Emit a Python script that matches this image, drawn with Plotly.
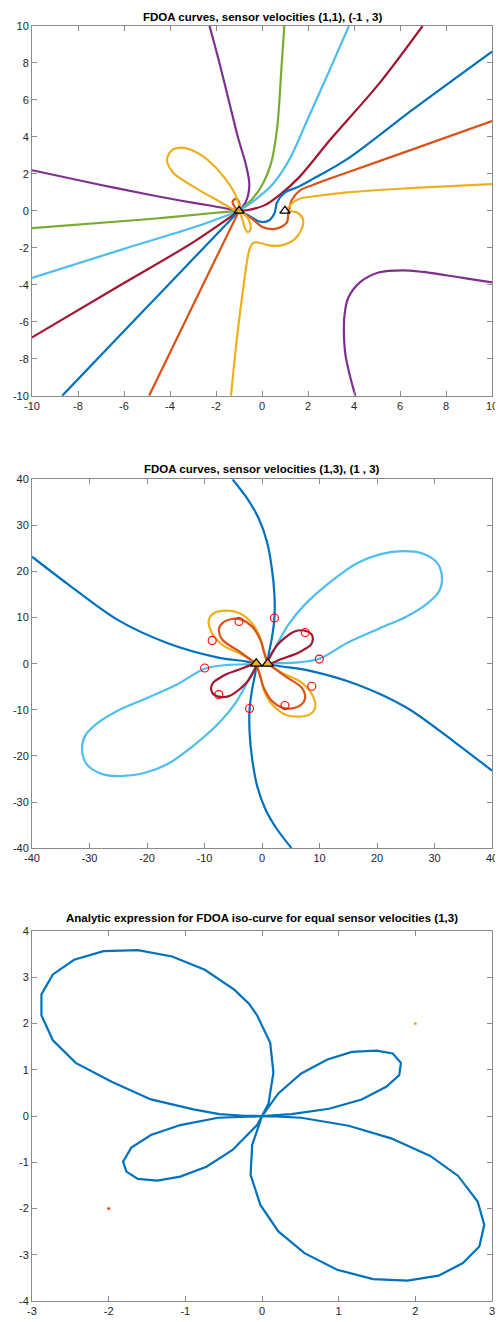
import plotly.graph_objects as go

# ---------------- colours (MATLAB default order) ----------------
BLUE = "#0072BD"; ORANGE = "#D95319"; YELLOW = "#EDB120"; PURPLE = "#7E2F8E"
GREEN = "#77AC30"; LBLUE = "#4DBEEE"; DRED = "#A2142F"

# ---------------- chart 1 data: FDOA curves, velocities (1,1), (-1,3) ----------------
sensors_x = [-1, 1]
sensors_y = [0, 0]

purple_top_x = [-2.28, -1.85, -1.45, -1.05, -0.7, -0.55, -0.7, -1.0]
purple_top_y = [10, 8, 6, 4, 2.5, 1.4, 0.5, 0.0]
purple_left_x = [-10, -7, -5, -3.5, -2.2, -1.0]
purple_left_y = [2.2, 1.4, 0.9, 0.55, 0.28, 0.0]
purple_br_x = [4.06, 3.8, 3.63, 3.56, 3.59, 3.75, 4.27, 5.1, 6.1, 7.0, 8.0, 9.0, 10.0]
purple_br_y = [-10, -8.8, -7.8, -6.5, -5.6, -4.7, -3.85, -3.32, -3.21, -3.3, -3.48, -3.67, -3.87]

green_left_x = [-10, -5, -2, -1]
green_left_y = [-0.93, -0.45, -0.1, 0.0]
green_up_x = [0.97, 0.85, 0.66, 0.4, 0.05, -0.45, -1.0]
green_up_y = [10, 7.8, 4.5, 2.6, 1.5, 0.6, 0.0]

lblue_left_x = [-10, -6, -3, -1]
lblue_left_y = [-3.62, -2.05, -0.9, 0.0]
lblue_up_x = [3.78, 2.9, 2.0, 1.2, 0.5, -0.3, -1.0]
lblue_up_y = [10, 7.5, 5.0, 2.8, 1.5, 0.6, 0.0]

dred_left_x = [-10, -6, -3, -1]
dred_left_y = [-6.84, -3.9, -1.7, 0.0]
dred_up_x = [6.98, 5.1, 3.0, 1.6, 0.8, 0.1, -0.6, -1.0]
dred_up_y = [10, 6.9, 3.9, 1.8, 0.9, 0.3, 0.05, 0.0]

blue_left_x = [-8.69, -5, -3, -1]
blue_left_y = [-10, -5.2, -2.6, 0.0]
blue_right_x = [-1.0, -0.55, -0.1, 0.3, 0.55, 0.65, 1.0, 1.57, 2.2, 3.7, 6.55, 10.0]
blue_right_y = [0.0, -0.27, -0.58, -0.52, -0.1, 0.45, 1.0, 1.3, 1.72, 2.8, 5.48, 8.62]

orange_left_x = [-4.91, -3, -2, -1]
orange_left_y = [-10, -5.1, -2.55, 0.0]
orange_right_x = [-1.0, -0.43, 0.0, 0.57, 1.07, 1.15, 1.3, 1.64, 2.2, 3.7, 6.55, 10.0]
orange_right_y = [0.0, -0.43, -0.85, -0.97, -0.65, -0.1, 0.6, 1.1, 1.4, 2.08, 3.33, 4.86]
orange_loop_x = [-1.0, -1.2, -1.28, -1.15, -1.0, -1.0]
orange_loop_y = [0.0, 0.25, 0.5, 0.65, 0.5, 0.0]

yellow_loop_x = [-1.0, -2.0, -3.0, -3.85, -4.13, -3.95, -3.5, -2.9, -2.4, -1.6, -1.1, -1.0]
yellow_loop_y = [0.0, 0.62, 1.33, 2.05, 2.75, 3.25, 3.42, 3.2, 2.8, 1.75, 0.7, 0.0]
yellow_small_x = [-1.0, -0.85, -0.75, -0.62, -0.5, -0.55, -0.8, -1.0]
yellow_small_y = [0.0, -0.45, -0.9, -1.15, -1.0, -0.55, -0.15, 0.0]
yellow_main_x = [-1.35, -1.1, -0.85, -0.55, -0.4, -0.2, 0.3, 0.85, 1.4, 1.72, 1.78, 1.55, 1.1, 1.3, 1.6, 2.2, 3.7, 6.0, 10.0]
yellow_main_y = [-10, -7, -4.5, -2.1, -1.75, -1.7, -1.86, -1.86, -1.55, -1.0, -0.45, -0.1, 0.05, 0.4, 0.65, 0.78, 1.0, 1.2, 1.45]

# ---------------- chart 2 data: FDOA curves, velocities (1,3), (1,3) ----------------
dblue_top_x = [-5.13, -2.56, -0.57, 0.85, 1.71, 2.16, 2.16, 1.71, 1.14, 1.0]
dblue_top_y = [40, 35.8, 31.5, 26.5, 20.7, 14.9, 9.9, 5.5, 1.9, 0.0]
dblue_bot_x = [5.13, 2.56, 0.57, -0.85, -1.71, -2.16, -2.16, -1.71, -1.14, -1.0]
dblue_bot_y = [-40, -35.8, -31.5, -26.5, -20.7, -14.9, -9.9, -5.5, -1.9, 0.0]
dblue_left_x = [-40, -33.6, -25.1, -16.5, -8.0, -2.85, -1.0]
dblue_left_y = [23.2, 17.1, 9.5, 4.5, 1.44, 0.5, 0.0]
dblue_right_x = [1.0, 2.85, 8.0, 16.5, 25.1, 33.6, 40.0]
dblue_right_y = [0.0, -0.5, -1.44, -4.5, -9.5, -17.1, -23.2]

lb_ur_x = [1.0, 2.28, 4.56, 7.4, 11.96, 16.5, 20.5, 24.5, 27.9, 30.5, 31.3, 30.75, 28.5, 25.1, 20.5, 14.8, 9.97, 6.26, 1.7, 1.0]
lb_ur_y = [0.0, 3.39, 8.43, 12.76, 17.8, 21.8, 23.7, 24.4, 23.9, 21.8, 18.5, 15.6, 12.8, 10.2, 7.7, 4.5, 1.08, 0.29, 0.07, 0.0]
lb_ll_x = [-1.0, -2.28, -4.56, -7.4, -11.96, -16.5, -20.5, -24.5, -27.9, -30.5, -31.3, -30.75, -28.5, -25.1, -20.5, -14.8, -9.97, -6.26, -1.7, -1.0]
lb_ll_y = [0.0, -3.39, -8.43, -12.76, -17.8, -21.8, -23.7, -24.4, -23.9, -21.8, -18.5, -15.6, -12.8, -10.2, -7.7, -4.5, -1.08, -0.29, -0.07, 0.0]

dr_ur_x = [1.0, 2.25, 3.96, 5.67, 7.3, 8.6, 8.85, 8.5, 7.5, 6.23, 4.5, 3.38, 1.0]
dr_ur_y = [0.0, 3.4, 5.6, 7.0, 7.2, 6.4, 5.3, 4.1, 3.2, 2.3, 1.5, 1.0, 0.0]
dr_ll_x = [-1.0, -2.25, -3.96, -5.67, -7.3, -8.6, -8.85, -8.5, -7.5, -6.23, -4.5, -3.38, -1.0]
dr_ll_y = [0.0, -3.4, -5.6, -7.0, -7.2, -6.4, -5.3, -4.1, -3.2, -2.3, -1.5, -1.0, 0.0]

or_ul_x = [-1.0, -4.0, -6.9, -7.5, -6.9, -5.2, -3.45, -1.74, -0.3, 0.43, 1.0]
or_ul_y = [0.0, 2.7, 5.2, 7.4, 8.8, 9.7, 9.5, 8.1, 5.2, 2.3, 0.0]
or_lr_x = [1.0, 4.0, 6.9, 7.5, 6.9, 5.2, 3.45, 1.74, 0.3, -0.43, -1.0]
or_lr_y = [0.0, -2.7, -5.2, -7.4, -8.8, -9.7, -9.5, -8.1, -5.2, -2.3, 0.0]

ye_ul_x = [-1.0, -3.45, -6.9, -8.85, -9.25, -8.3, -6.3, -4.0, -1.74, -0.3, 0.26, 1.0]
ye_ul_y = [0.0, 1.95, 4.1, 7.0, 9.5, 11.0, 11.5, 11.0, 8.8, 5.6, 2.7, 0.0]
ye_lr_x = [1.0, 3.45, 6.9, 8.85, 9.25, 8.3, 6.3, 4.0, 1.74, 0.3, -0.26, -1.0]
ye_lr_y = [0.0, -1.95, -4.1, -7.0, -9.5, -11.0, -11.5, -11.0, -8.8, -5.6, -2.7, 0.0]

circles_x = [2.16, -3.99, -8.66, 7.52, 9.97, -9.97, -7.52, -2.16, 3.99, 8.66]
circles_y = [9.9, 9.15, 5.05, 6.77, 1.0, -0.94, -6.7, -9.73, -9.08, -4.9]

# ---------------- chart 3 data: analytic iso-curve ----------------
iso_x = [0.0, -0.234, -0.554, -0.895, -1.449, -1.961, -2.43, -2.728, -2.877, -2.877, -2.728, -2.451,
         -2.067, -1.62, -1.172, -0.746, -0.362, -0.17, -0.064, 0.107, 0.149, 0.085, 0.0,
         -0.064, -0.384, -0.725, -1.066, -1.364, -1.62, -1.769, -1.812, -1.705, -1.449, -1.066, -0.575, -0.2, 0.0,
         -0.128, -0.149, -0.021, 0.213, 0.554, 0.98, 1.449, 1.897, 2.302, 2.621, 2.835, 2.899, 2.813,
         2.558, 2.195, 1.684, 1.13, 0.512, 0.17, 0.0,
         0.213, 0.512, 0.853, 1.172, 1.492, 1.705, 1.812, 1.79, 1.62, 1.3, 0.874, 0.384, 0.0]
iso_y = [0.0, 0.007, 0.043, 0.144, 0.36, 0.741, 1.151, 1.64, 2.18, 2.633, 3.065, 3.381,
         3.568, 3.59, 3.453, 3.165, 2.734, 2.43, 2.18, 1.583, 0.942, 0.273, 0.0,
         -0.194, -0.734, -1.094, -1.309, -1.396, -1.36, -1.201, -0.986, -0.683, -0.41, -0.194, -0.036, -0.005, 0.0,
         -0.626, -1.273, -1.921, -2.496, -2.964, -3.324, -3.525, -3.561, -3.453, -3.18, -2.82, -2.353, -1.849,
         -1.295, -0.863, -0.482, -0.209, -0.036, -0.005, 0.0,
         0.489, 0.921, 1.223, 1.388, 1.417, 1.353, 1.151, 0.885, 0.633, 0.36, 0.158, 0.043, 0.0]
dot1 = (-2, -2)
dot2 = (2, 2)

# ---------------- ticks ----------------
t1_vals = [-10, -8, -6, -4, -2, 0, 2, 4, 6, 8, 10]
t1_text = ["-10", "-8", "-6", "-4", "-2", "0", "2", "4", "6", "8", "10"]
t2_vals = [-40, -30, -20, -10, 0, 10, 20, 30, 40]
t2_text = ["-40", "-30", "-20", "-10", "0", "10", "20", "30", "40"]
t3x_vals = [-3, -2, -1, 0, 1, 2, 3]
t3x_text = ["-3", "-2", "-1", "0", "1", "2", "3"]
t3y_vals = [-4, -3, -2, -1, 0, 1, 2, 3, 4]
t3y_text = ["-4", "-3", "-2", "-1", "0", "1", "2", "3", "4"]

titles = ["FDOA curves, sensor velocities (1,1), (-1 , 3)",
          "FDOA curves, sensor velocities (1,3), (1 , 3)",
          "Analytic expression for FDOA iso-curve for equal sensor velocities (1,3)"]

fig = go.Figure()
LW = 2.2


def line(x, y, color, xa, ya, w=LW):
    fig.add_trace(go.Scatter(x=x, y=y, mode="lines", line=dict(color=color, width=w, shape="spline", smoothing=0.9),
                             xaxis=xa, yaxis=ya, showlegend=False, hoverinfo="skip"))


# chart 1
for (x, y, c) in [
    (purple_top_x, purple_top_y, PURPLE), (purple_left_x, purple_left_y, PURPLE), (purple_br_x, purple_br_y, PURPLE),
    (green_left_x, green_left_y, GREEN), (green_up_x, green_up_y, GREEN),
    (lblue_left_x, lblue_left_y, LBLUE), (lblue_up_x, lblue_up_y, LBLUE),
    (dred_left_x, dred_left_y, DRED), (dred_up_x, dred_up_y, DRED),
    (blue_left_x, blue_left_y, BLUE), (blue_right_x, blue_right_y, BLUE),
    (orange_left_x, orange_left_y, ORANGE), (orange_right_x, orange_right_y, ORANGE), (orange_loop_x, orange_loop_y, ORANGE),
    (yellow_loop_x, yellow_loop_y, YELLOW), (yellow_small_x, yellow_small_y, YELLOW), (yellow_main_x, yellow_main_y, YELLOW),
]:
    line(x, y, c, "x", "y")
fig.add_trace(go.Scatter(x=sensors_x, y=sensors_y, mode="markers", xaxis="x", yaxis="y", showlegend=False,
                         marker=dict(symbol="triangle-up-open", size=9, color="black", line=dict(width=1.3, color="black"))))

# chart 2
for (x, y, c) in [
    (dblue_top_x, dblue_top_y, BLUE), (dblue_bot_x, dblue_bot_y, BLUE),
    (dblue_left_x, dblue_left_y, BLUE), (dblue_right_x, dblue_right_y, BLUE),
    (lb_ur_x, lb_ur_y, LBLUE), (lb_ll_x, lb_ll_y, LBLUE),
    (ye_ul_x, ye_ul_y, YELLOW), (ye_lr_x, ye_lr_y, YELLOW),
    (or_ul_x, or_ul_y, ORANGE), (or_lr_x, or_lr_y, ORANGE),
    (dr_ur_x, dr_ur_y, DRED), (dr_ll_x, dr_ll_y, DRED),
]:
    line(x, y, c, "x2", "y2")
fig.add_trace(go.Scatter(x=circles_x, y=circles_y, mode="markers", xaxis="x2", yaxis="y2", showlegend=False,
                         marker=dict(symbol="circle-open", size=8, color="#FF0000", line=dict(width=1.1, color="#FF0000"))))
fig.add_trace(go.Scatter(x=sensors_x, y=sensors_y, mode="markers", xaxis="x2", yaxis="y2", showlegend=False,
                         marker=dict(symbol="triangle-up", size=10, color=YELLOW, line=dict(width=1.3, color="black"))))

# chart 3
fig.add_trace(go.Scatter(x=iso_x, y=iso_y, mode="lines", line=dict(color=BLUE, width=2.2), xaxis="x3", yaxis="y3",
                         showlegend=False))
fig.add_trace(go.Scatter(x=[dot1[0]], y=[dot1[1]], mode="markers", marker=dict(color=ORANGE, size=3), xaxis="x3",
                         yaxis="y3", showlegend=False))
fig.add_trace(go.Scatter(x=[dot2[0]], y=[dot2[1]], mode="markers", marker=dict(color=YELLOW, size=3), xaxis="x3",
                         yaxis="y3", showlegend=False))

AX = dict(showgrid=False, zeroline=False, showline=True, linecolor="#8a8a8a", linewidth=1, mirror="ticks",
          ticks="inside", ticklen=5, tickcolor="#8a8a8a", tickfont=dict(family="Liberation Sans, Arial", size=11, color="#262626"))

# page body has an 8px margin: figure is drawn starting at (8, 8)
OFF = 8
W = 503 - OFF
H = 1322 - OFF
top, bot = 26 - OFF, 17
left, right = 29 - OFF, 5
ph = H - top - bot


def dom(p0, p1):
    # p0, p1 = page pixel rows of plot top / bottom
    p0 -= OFF; p1 -= OFF
    return [(H - bot - p1) / ph, (H - bot - p0) / ph]


d1 = dom(26, 397); d2 = dom(480.7, 850.7); d3 = dom(934, 1305)

fig.update_layout(
    width=W, height=H, margin=dict(l=left, r=right, t=top, b=bot),
    paper_bgcolor="white", plot_bgcolor="white",
    xaxis=dict(AX, domain=[0, 1], range=[-10, 10], tickvals=t1_vals, ticktext=t1_text, anchor="y"),
    yaxis=dict(AX, domain=d1, range=[-10, 10], tickvals=t1_vals, ticktext=t1_text, anchor="x"),
    xaxis2=dict(AX, domain=[0, 1], range=[-40, 40], tickvals=t2_vals, ticktext=t2_text, anchor="y2"),
    yaxis2=dict(AX, domain=d2, range=[-40, 40], tickvals=t2_vals, ticktext=t2_text, anchor="x2"),
    xaxis3=dict(AX, domain=[0, 1], range=[-3, 3], tickvals=t3x_vals, ticktext=t3x_text, anchor="y3"),
    yaxis3=dict(AX, domain=d3, range=[-4, 4], tickvals=t3y_vals, ticktext=t3y_text, anchor="x3"),
)

for title, d, ys in zip(titles, [d1, d2, d3], [1, 2, 5]):
    fig.add_annotation(text="<b>" + title + "</b>", xref="paper", yref="paper", x=0.5, y=d[1], yanchor="bottom",
                       xanchor="center", showarrow=False, yshift=ys,
                       font=dict(family="Liberation Sans, Arial", size=11.5, color="black"))

fig.write_html("out.html")
